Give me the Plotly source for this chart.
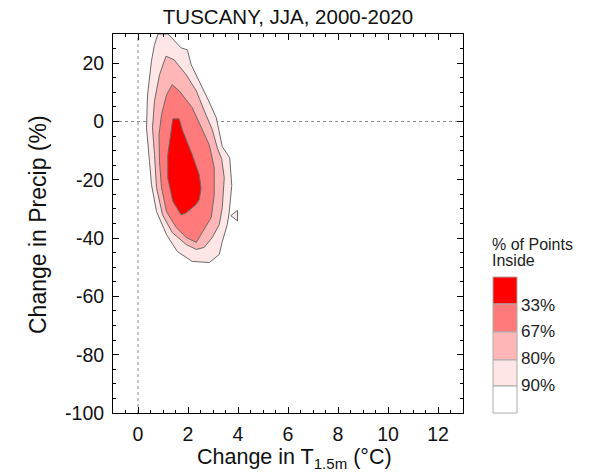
import plotly.graph_objects as go

# ---- data (contour polygons in data units) ----
levels = ["33%", "67%", "80%", "90%"]
level_colors = ["#ff0000", "#ff7a7a", "#ffb6b6", "#ffe6e6"]

c90_x = [0.80, 1.20, 1.73, 1.97, 2.13, 2.45, 2.77, 3.13, 3.37, 3.67, 3.75, 3.65, 3.57, 3.37, 3.25, 2.85, 2.17, 1.57, 1.14, 0.74, 0.54, 0.46, 0.38, 0.34, 0.38, 0.54, 0.65]
c90_y = [30.0, 30.0, 25.2, 24.6, 19.4, 13.9, 8.1, 1.3, -8.6, -12.5, -22.0, -31.0, -35.4, -41.2, -45.6, -48.4, -48.0, -44.6, -38.8, -30.9, -21.7, -13.8, -4.6, -2.2, 9.1, 20.8, 26.0]

c90b_x = [3.71, 3.98, 3.98]
c90b_y = [-32.3, -30.5, -34.1]

c80_x = [1.12, 1.45, 1.93, 2.33, 2.65, 2.97, 3.17, 3.35, 3.45, 3.37, 3.25, 2.97, 2.65, 2.33, 1.93, 1.37, 0.98, 0.74, 0.66, 0.58, 0.58, 0.66, 0.86]
c80_y = [22.4, 21.1, 16.0, 10.5, 3.7, -2.8, -9.0, -13.0, -19.3, -29.6, -35.4, -39.8, -43.2, -43.9, -42.2, -38.1, -32.0, -22.7, -11.4, -4.6, -2.2, 7.1, 16.0]

c67_x = [1.37, 1.65, 2.17, 2.53, 2.85, 3.05, 3.05, 2.93, 2.65, 2.45, 2.33, 1.93, 1.53, 1.14, 0.94, 0.86, 0.84, 0.94, 1.14]
c67_y = [12.6, 10.5, 4.7, -2.2, -8.0, -15.9, -25.1, -32.9, -37.1, -39.8, -41.5, -39.8, -36.4, -30.9, -22.7, -13.8, -4.6, 2.3, 9.1]

c33_x = [1.39, 1.65, 1.77, 2.17, 2.45, 2.52, 2.45, 2.32, 1.92, 1.72, 1.39, 1.19, 1.19, 1.23]
c33_y = [0.9, 0.9, -2.8, -11.4, -18.3, -23.0, -26.8, -28.5, -31.4, -32.0, -27.4, -19.4, -11.4, -8.6]

x_ticks = [0, 2, 4, 6, 8, 10, 12]
x_ticktext = ["0", "2", "4", "6", "8", "10", "12"]
y_ticks = [20, 0, -20, -40, -60, -80, -100]
y_ticktext = ["20", "0", "-20", "-40", "-60", "-80", "-100"]

FONT = "Liberation Sans, Arial, Helvetica, sans-serif"

fig = go.Figure()

def poly(xs, ys, color):
    fig.add_trace(go.Scatter(
        x=xs + xs[:1], y=ys + ys[:1], mode="lines", fill="toself",
        fillcolor=color, line=dict(color="#6a6a6a", width=1),
        hoverinfo="skip", showlegend=False))

poly(c90_x, c90_y, level_colors[3])
poly(c90b_x, c90b_y, level_colors[3])
poly(c80_x, c80_y, level_colors[2])
poly(c67_x, c67_y, level_colors[1])
poly(c33_x, c33_y, level_colors[0])

shapes = [
    dict(type="line", xref="x", yref="y", x0=0, x1=0, y0=-100, y1=30,
         line=dict(color="#888", width=1, dash="dot"), layer="below"),
    dict(type="line", xref="x", yref="y", x0=-1, x1=13, y0=0, y1=0,
         line=dict(color="#888", width=1, dash="dot"), layer="below"),
]

# legend boxes (paper coordinates)
L, T, B = 113, 34, 413
H = B - T
W = 350
def px2x(px):
    return (px - L) / W
def py2y(py):
    return (B - py) / H

box_edges = [277, 304, 332, 360, 386, 413]
label_centers = [305, 331.5, 358.5, 385]
box_fill = level_colors + ["#ffffff"]
for i in range(5):
    shapes.append(dict(type="rect", xref="paper", yref="paper",
                       x0=px2x(493), x1=px2x(517),
                       y0=py2y(box_edges[i + 1]), y1=py2y(box_edges[i]),
                       fillcolor=box_fill[i], line=dict(color="#aaaaaa", width=1)))

LFS = 17
annotations = []
for i, lab in enumerate(levels):
    annotations.append(dict(xref="paper", yref="paper", x=px2x(519), y=py2y(label_centers[i]),
                            text=lab, showarrow=False, xanchor="left", yanchor="middle",
                            font=dict(family=FONT, size=LFS, color="#222")))
annotations.append(dict(xref="paper", yref="paper", x=px2x(490), y=py2y(244),
                        text="% of Points", showarrow=False, xanchor="left", yanchor="middle",
                        font=dict(family=FONT, size=16, color="#222")))
annotations.append(dict(xref="paper", yref="paper", x=px2x(490), y=py2y(260),
                        text="Inside", showarrow=False, xanchor="left", yanchor="middle",
                        font=dict(family=FONT, size=16, color="#222")))

# axis titles
annotations.append(dict(xref="paper", yref="paper", x=px2x(294), y=py2y(458),
                        text="Change in T<sub>1.5m</sub> (°C)", showarrow=False,
                        xanchor="center", yanchor="middle",
                        font=dict(family=FONT, size=21.5, color="#111")))
annotations.append(dict(xref="paper", yref="paper", x=px2x(38), y=py2y(225),
                        text="Change in Precip (%)", showarrow=False, textangle=-90,
                        xanchor="center", yanchor="middle",
                        font=dict(family=FONT, size=23, color="#111")))

axis_common = dict(showline=True, linecolor="black", linewidth=1, mirror="ticks",
                   ticks="inside", ticklen=6, tickcolor="black", showgrid=False,
                   zeroline=False, automargin=False,
                   tickfont=dict(family=FONT, size=19.5, color="#111"))

fig.update_layout(
    width=596, height=472,
    margin=dict(l=L, r=596 - (L + W), t=T, b=472 - B),
    paper_bgcolor="white", plot_bgcolor="white",
    title=dict(text="TUSCANY, JJA, 2000-2020", x=(L + W / 2) / 596, xanchor="center",
               y=1 - 17 / 472, yanchor="middle",
               font=dict(family=FONT, size=20.5, color="#111")),
    xaxis=dict(range=[-1, 13], tickvals=x_ticks, ticktext=x_ticktext, ticklabelstandoff=4,
               minor=dict(dtick=0.5, tick0=0, ticks="inside", ticklen=3, tickcolor="black"),
               **axis_common),
    yaxis=dict(range=[-100, 30], tickvals=y_ticks, ticktext=y_ticktext, ticklabelstandoff=4,
               minor=dict(dtick=5, tick0=0, ticks="inside", ticklen=3, tickcolor="black"),
               **axis_common),
    shapes=shapes,
    annotations=annotations,
    showlegend=False,
)

fig.write_html("out.html")
